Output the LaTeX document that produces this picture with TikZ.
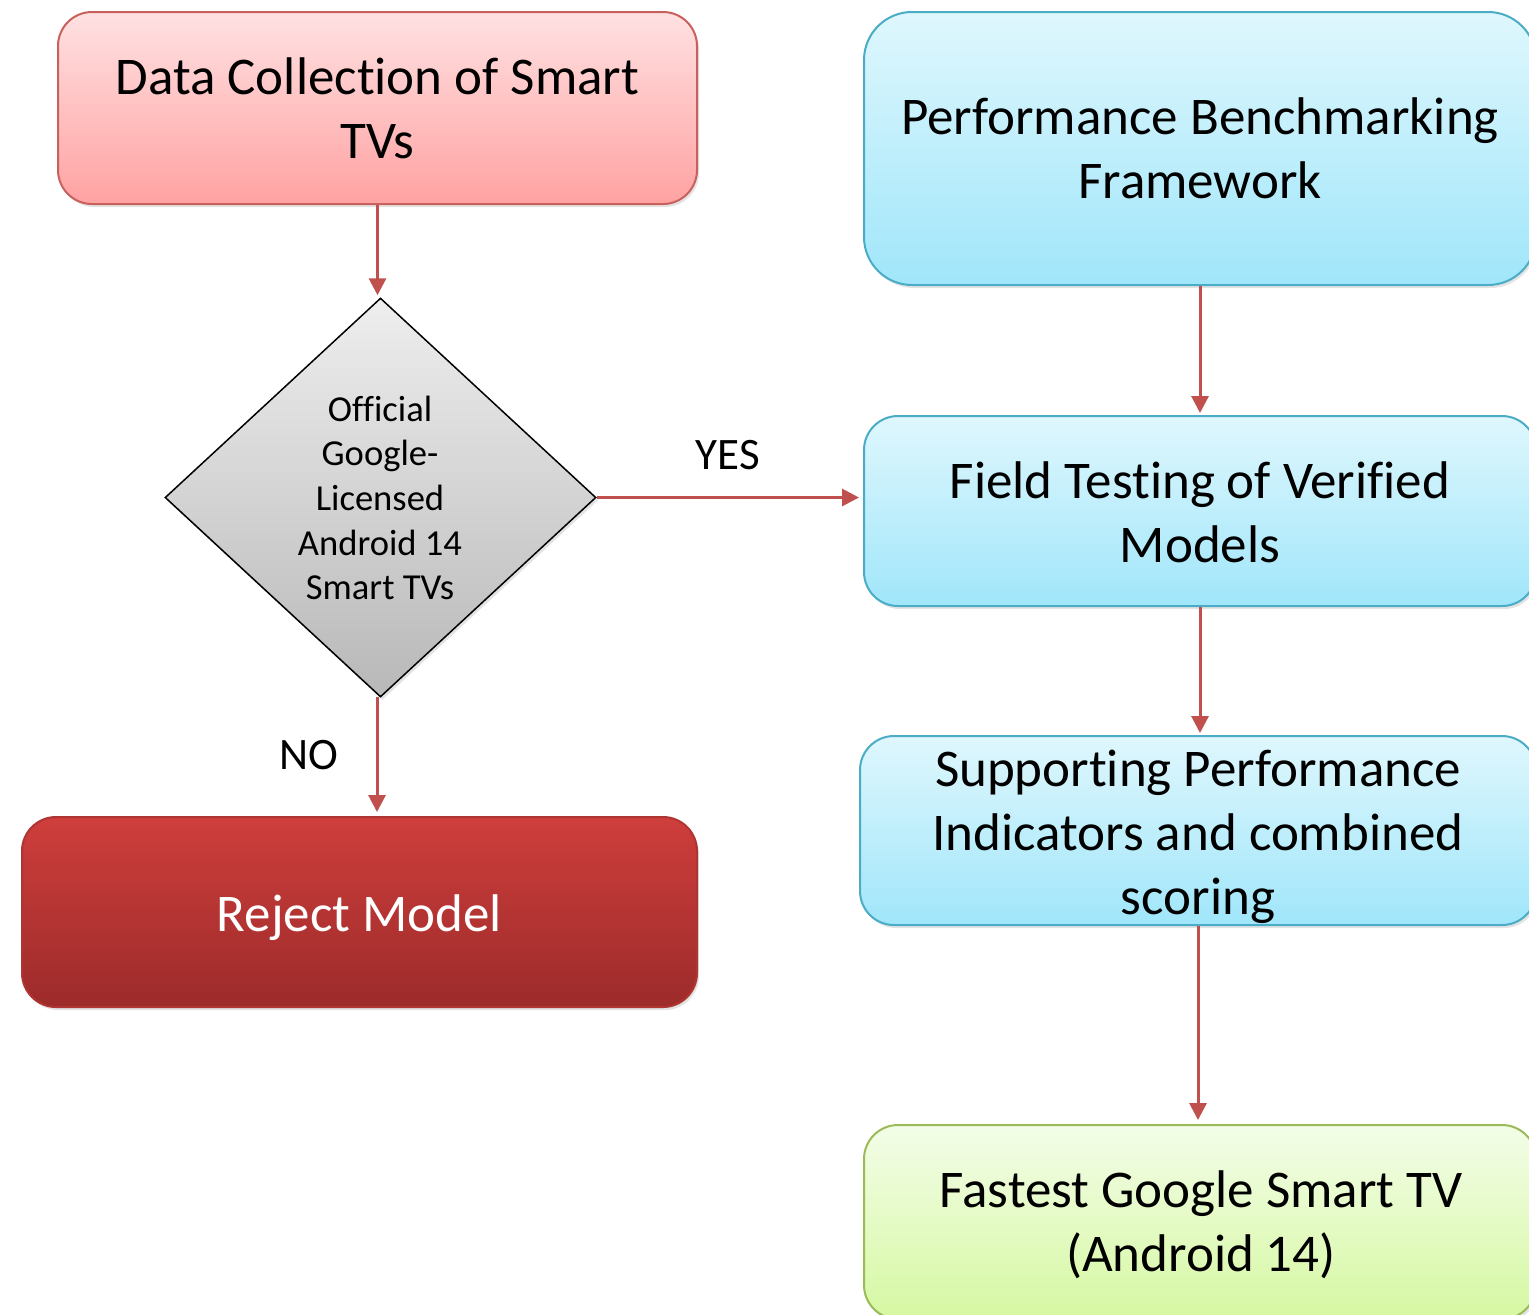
\documentclass[tikz,border=0pt]{standalone}
\usepackage{fontspec}
\setmainfont[Ligatures=NoCommon]{Carlito}
\usetikzlibrary{arrows.meta,shapes.geometric,shadows}
\definecolor{arrowred}{HTML}{C0504D}
\definecolor{pinktop}{HTML}{FFE1E2}
\definecolor{pinkbot}{HTML}{FFA2A2}
\definecolor{pinkline}{HTML}{C8615E}
\definecolor{cyantop}{HTML}{DFF7FD}
\definecolor{cyanbot}{HTML}{A0E6FA}
\definecolor{cyanline}{HTML}{4BACC6}
\definecolor{greentop}{HTML}{F3FDE8}
\definecolor{greenbot}{HTML}{D6F8A2}
\definecolor{greenline}{HTML}{9BBB59}
\definecolor{rejtop}{HTML}{CE3E3C}
\definecolor{rejbot}{HTML}{9C2B2A}
\definecolor{graytop}{HTML}{EEEEEE}
\definecolor{graybot}{HTML}{B8B8B8}
\tikzset{
  boxbase/.style={rectangle, rounded corners=17pt, inner sep=0pt, line width=1pt,
    drop shadow={opacity=0.22, shadow xshift=1pt, shadow yshift=-1.5pt}},
  pinkbox/.style={boxbase, draw=pinkline, top color=pinktop, bottom color=pinkbot},
  cyanbox/.style={boxbase, draw=cyanline, top color=cyantop, bottom color=cyanbot},
  greenbox/.style={boxbase, draw=greenline, top color=greentop, bottom color=greenbot},
  rejbox/.style={boxbase, draw=rejtop!85!black, top color=rejtop, bottom color=rejbot},
  decision/.style={diamond, inner sep=0pt, draw=black, line width=0.75pt,
    top color=graytop, bottom color=graybot,
    drop shadow={opacity=0.22, shadow xshift=1pt, shadow yshift=-1.5pt}},
  bigtxt/.style={align=center, inner sep=0pt, font=\fontsize{26.5}{32}\selectfont},
  smalltxt/.style={align=center, inner sep=0pt, font=\fontsize{18.3}{22.35}\selectfont},
  lbl/.style={inner sep=0pt, font=\fontsize{22.5}{27}\selectfont},
  flow/.style={draw=arrowred, line width=1.5pt, -{Triangle[length=8.5pt,width=8.5pt]}}
}
\begin{document}
\begin{tikzpicture}[x=0.5pt,y=-0.5pt]
\useasboundingbox (0,0) rectangle (1529,1314);
% left column
\node[pinkbox, minimum width=319.5pt, minimum height=96pt] (data) at (377.5,108) {};
\node[bigtxt] (datat) at (data.center) {Data Collection of Smart\\TVs};
\node[decision, minimum width=215.5pt, minimum height=199.5pt] (dia) at (380.5,497.5) {};
\node[smalltxt] (diat) at (380,498) {Official\\Google-\\Licensed\\Android 14\\Smart TVs};
\node[rejbox, minimum width=337.5pt, minimum height=95pt] (rej) at (359.5,912) {};
\node[bigtxt, text=white] (rejt) at (359.5,918) {Reject Model};
% right column
\node[cyanbox, rounded corners=24pt, minimum width=336pt, minimum height=136.5pt] (perf) at (1200,148.5) {};
\node[bigtxt] (perft) at (perf.center) {Performance Benchmarking\\Framework};
\node[cyanbox, minimum width=336pt, minimum height=95pt] (field) at (1200,511) {};
\node[bigtxt] (fieldt) at (1200,512) {Field Testing of Verified\\Models};
\node[cyanbox, minimum width=338pt, minimum height=94.5pt] (sup) at (1198,830.5) {};
\node[bigtxt] (supt) at (1198,837) {Supporting Performance\\Indicators and combined\\scoring};
\node[greenbox, minimum width=336pt, minimum height=97pt] (fast) at (1200,1222) {};
\node[bigtxt] (fastt) at (1201,1225) {Fastest Google Smart TV\\(Android 14)};
% labels
\node[lbl] (yes) at (728,455) {YES};
\node[lbl] (no) at (309,755) {NO};
% helper
\coordinate (nostart) at (377,697);
% connectors
\draw[flow] (data.south) -- ([yshift=1pt]data.south |- dia.north);
\draw[flow] (dia.east) -- ([xshift=-2pt]dia.east -| field.west);
\draw[flow] (nostart) -- ([yshift=2pt]nostart |- rej.north);
\draw[flow] (perf.south) -- ([yshift=1pt]field.north);
\draw[flow] (field.south) -- ([yshift=1pt]field.south |- sup.north);
\draw[flow] (sup.south) -- ([yshift=2pt]fast.north -| sup.south);
\end{tikzpicture}
\end{document}
